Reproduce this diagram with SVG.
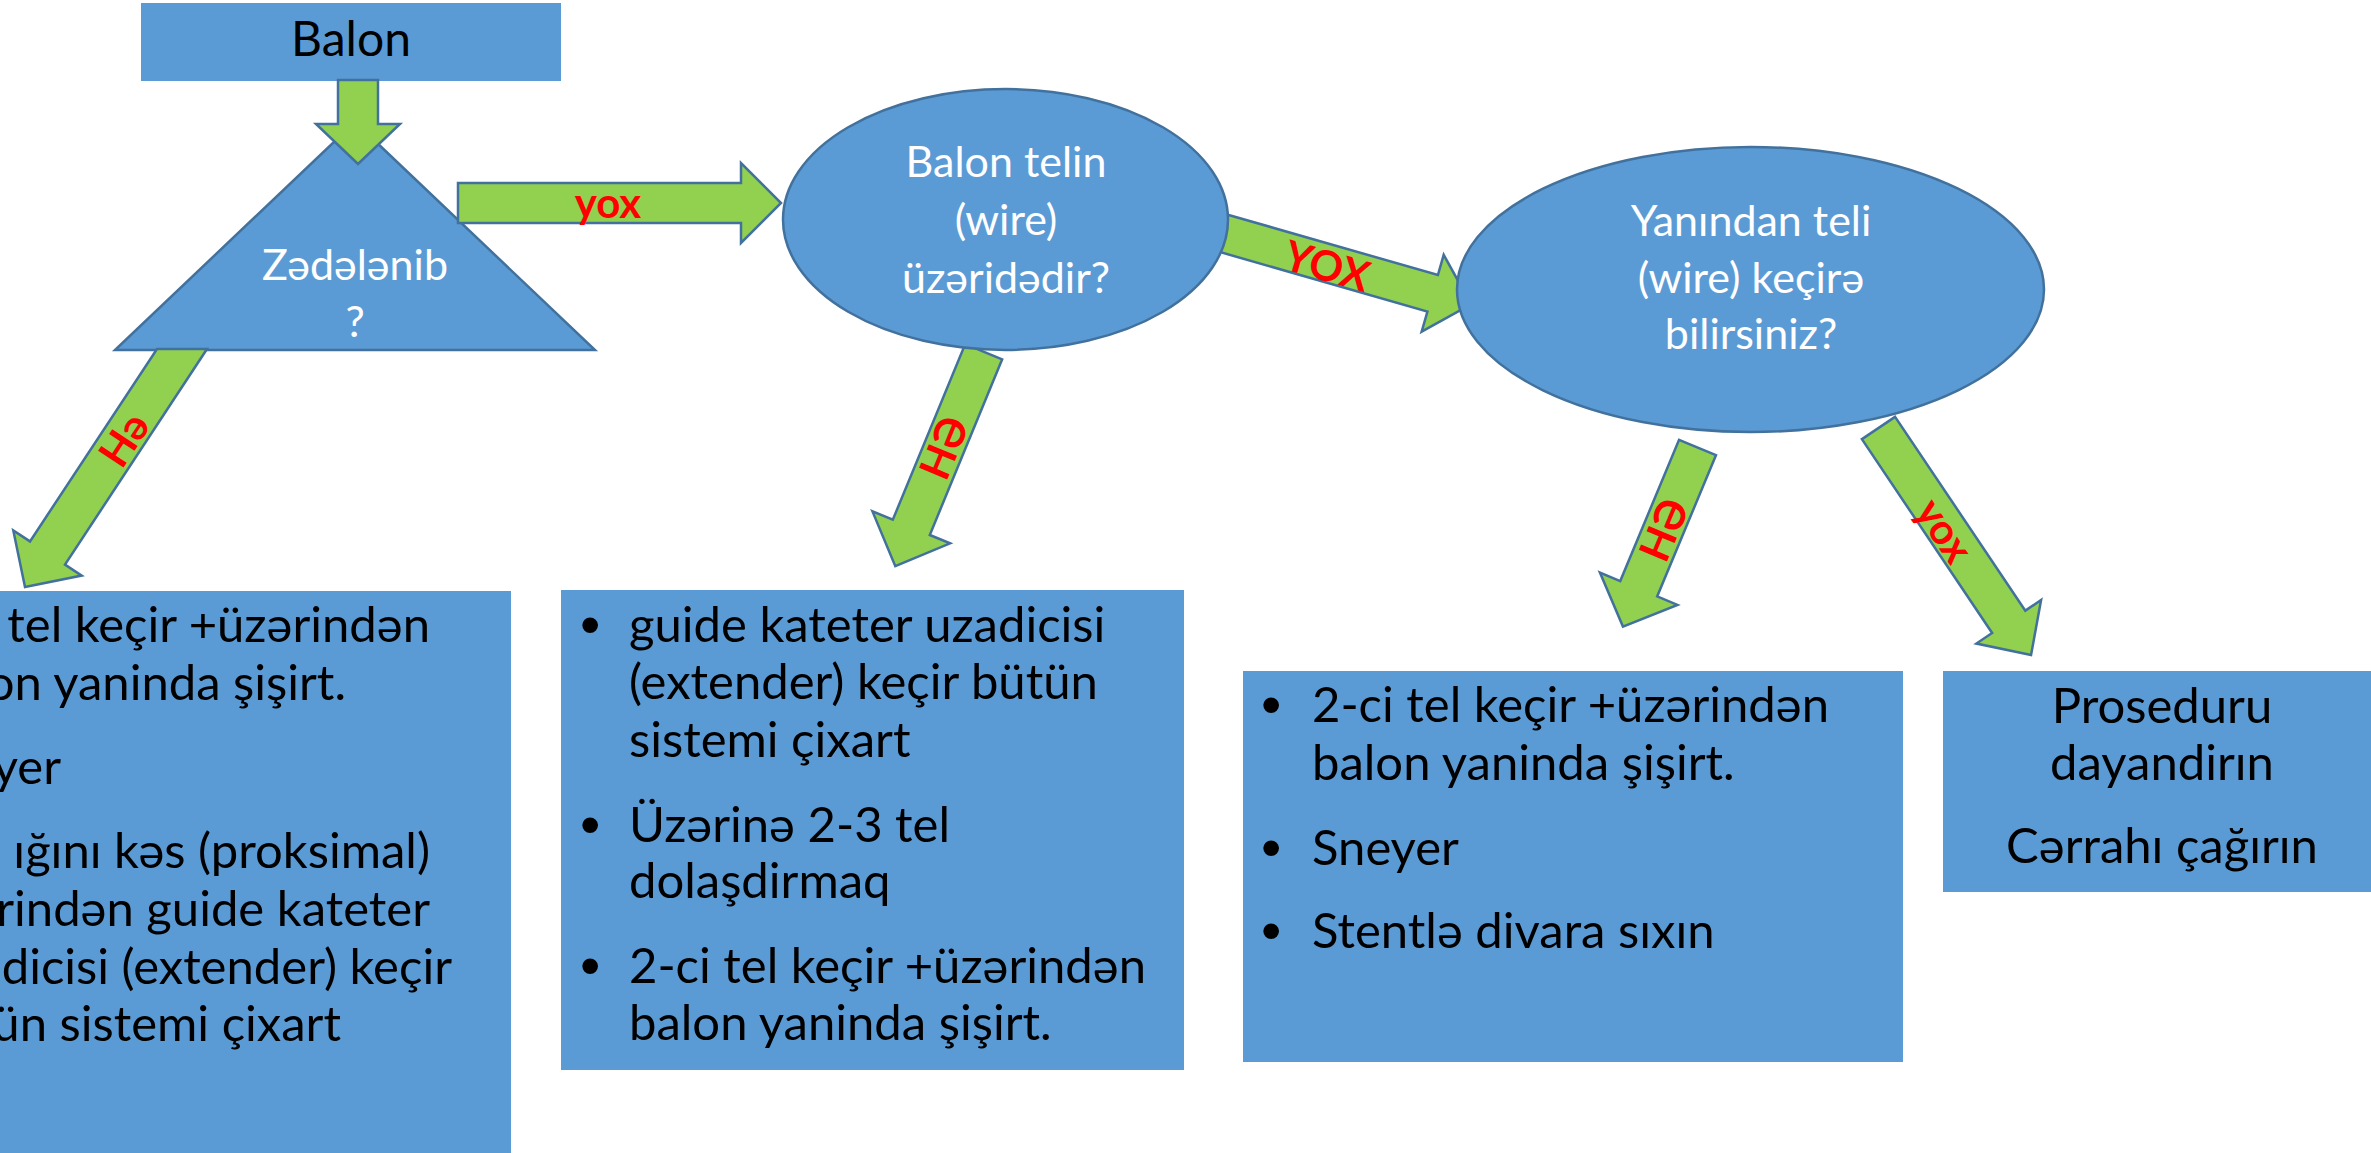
<svg xmlns="http://www.w3.org/2000/svg" width="2371" height="1153" viewBox="0 0 2371 1153">
<style>
.box{fill:#5B9BD5;}
.shape{fill:#5B9BD5;stroke:#41719C;stroke-width:2.5;}
.arrow{fill:#92D050;stroke:#41719C;stroke-width:2.5;stroke-linejoin:miter;}
.t{font-family:Lato,"Liberation Sans",sans-serif;}
.w{fill:#FFFFFF;font-size:43px;text-anchor:middle;}
.b{fill:#000000;font-size:49px;}
.bul{font-family:"Liberation Sans",Arial,sans-serif;font-size:58px;fill:#000000;}
.lbl{fill:#FF0000;font-size:42px;font-weight:bold;text-anchor:middle;}
</style>
<rect width="2371" height="1153" fill="#FFFFFF"/>
<g id="n-balon">
<rect class="box" x="141" y="3" width="420" height="78"/>
<text class="t" x="351" y="56" font-size="48px" text-anchor="middle" fill="#000000">Balon</text>
</g>
<g id="n-zedelenib">
<polygon class="shape" points="355,122 595,350 115,350"/>
<text class="t w" x="355" y="280">Zədələnib</text>
<text class="t w" x="355" y="337">?</text>
</g>
<g id="connectors">
<polygon class="arrow" points="338,80 378,80 378,124 400,124 358,164 316,124 338,124"/>
<polygon class="arrow" points="458,183 741,183 741,163 781,203 741,243 741,223 458,223"/>
<text class="t lbl" x="608" y="218">yox</text>
<path class="arrow" transform="translate(1226,234) rotate(16)" d="M-10,-19 L215,-19 L215,-40 L255,0 L215,40 L215,19 L-10,19 Z"/>
<text class="t lbl" transform="translate(1327,267) rotate(16)" x="0" y="14" font-weight="normal" font-size="43px">YOX</text>
<polygon class="arrow" points="207,349 65,564.6 81.7,575.6 25,587 13.3,530.4 30,541.4 157,349"/>
<text class="t lbl" transform="translate(125,440) rotate(-56.6)" x="0" y="14">Hə</text>
<path class="arrow" transform="translate(983.7,351.7) rotate(112.4)" d="M0,-20 L190,-20 L190,-42 L232,0 L190,42 L190,20 L0,20 Z"/>
<text class="t lbl" transform="translate(945,448) rotate(-67.6)" x="0" y="14">HƏ</text>
<path class="arrow" transform="translate(1697.5,447.5) rotate(112.6)" d="M0,-20 L153,-20 L153,-42 L194,0 L153,42 L153,20 L0,20 Z"/>
<text class="t lbl" transform="translate(1665,530) rotate(-67.4)" x="0" y="14">HƏ</text>
<path class="arrow" transform="translate(1878.5,428) rotate(56.1)" d="M0,-20 L233.5,-20 L233.5,-39 L273.5,0 L233.5,39 L233.5,20 L0,20 Z"/>
<text class="t lbl" transform="translate(1944,531) rotate(56.1)" x="0" y="14">yox</text>
</g>
<g id="n-balon-telin">
<ellipse class="shape" cx="1005.5" cy="219.5" rx="222.5" ry="130.5"/>
<text class="t w" x="1006" y="177">Balon telin</text>
<text class="t w" x="1006" y="235">(wire)</text>
<text class="t w" x="1006" y="293">üzəridədir?</text>
</g>
<g id="n-yanindan">
<ellipse class="shape" cx="1750.5" cy="289.5" rx="293.5" ry="142.5"/>
<text class="t w" x="1751" y="236">Yanından teli</text>
<text class="t w" x="1751" y="293">(wire) keçirə</text>
<text class="t w" x="1751" y="349">bilirsiniz?</text>
</g>
<g id="n-box1">
<rect class="box" x="-10" y="591" width="521" height="572"/>
<g class="t b" text-anchor="end">
<text x="430" y="642">tel keçir +üzərindən</text>
<text x="346" y="700">on yaninda şişirt.</text>
<text x="61" y="784">yer</text>
<text x="430" y="868">ığını kəs (proksimal)</text>
<text x="430" y="926">rindən guide kateter</text>
<text x="452" y="984">dicisi (extender) keçir</text>
<text x="341" y="1041">ün sistemi çixart</text>
</g>
</g>
<g id="n-box2">
<rect class="box" x="561" y="590" width="623" height="480"/>
<g class="bul">
<text x="580" y="644">•</text>
<text x="580" y="844">•</text>
<text x="580" y="985">•</text>
</g>
<g class="t b">
<text x="629" y="642">guide kateter uzadicisi</text>
<text x="629" y="699">(extender) keçir bütün</text>
<text x="629" y="757">sistemi çixart</text>
<text x="629" y="842">Üzərinə 2-3 tel</text>
<text x="629" y="898">dolaşdirmaq</text>
<text x="629" y="983">2-ci tel keçir +üzərindən</text>
<text x="629" y="1040">balon yaninda şişirt.</text>
</g>
</g>
<g id="n-box3">
<rect class="box" x="1243" y="671" width="660" height="391"/>
<g class="bul">
<text x="1261" y="724">•</text>
<text x="1261" y="867">•</text>
<text x="1261" y="950">•</text>
</g>
<g class="t b">
<text x="1312" y="722">2-ci tel keçir +üzərindən</text>
<text x="1312" y="780">balon yaninda şişirt.</text>
<text x="1312" y="865">Sneyer</text>
<text x="1312" y="948">Stentlə divara sıxın</text>
</g>
</g>
<g id="n-box4">
<rect class="box" x="1943" y="671" width="440" height="221"/>
<g class="t b" text-anchor="middle">
<text x="2162" y="723">Proseduru</text>
<text x="2162" y="780">dayandirın</text>
<text x="2162" y="863">Cərrahı çağırın</text>
</g>
</g>
</svg>
